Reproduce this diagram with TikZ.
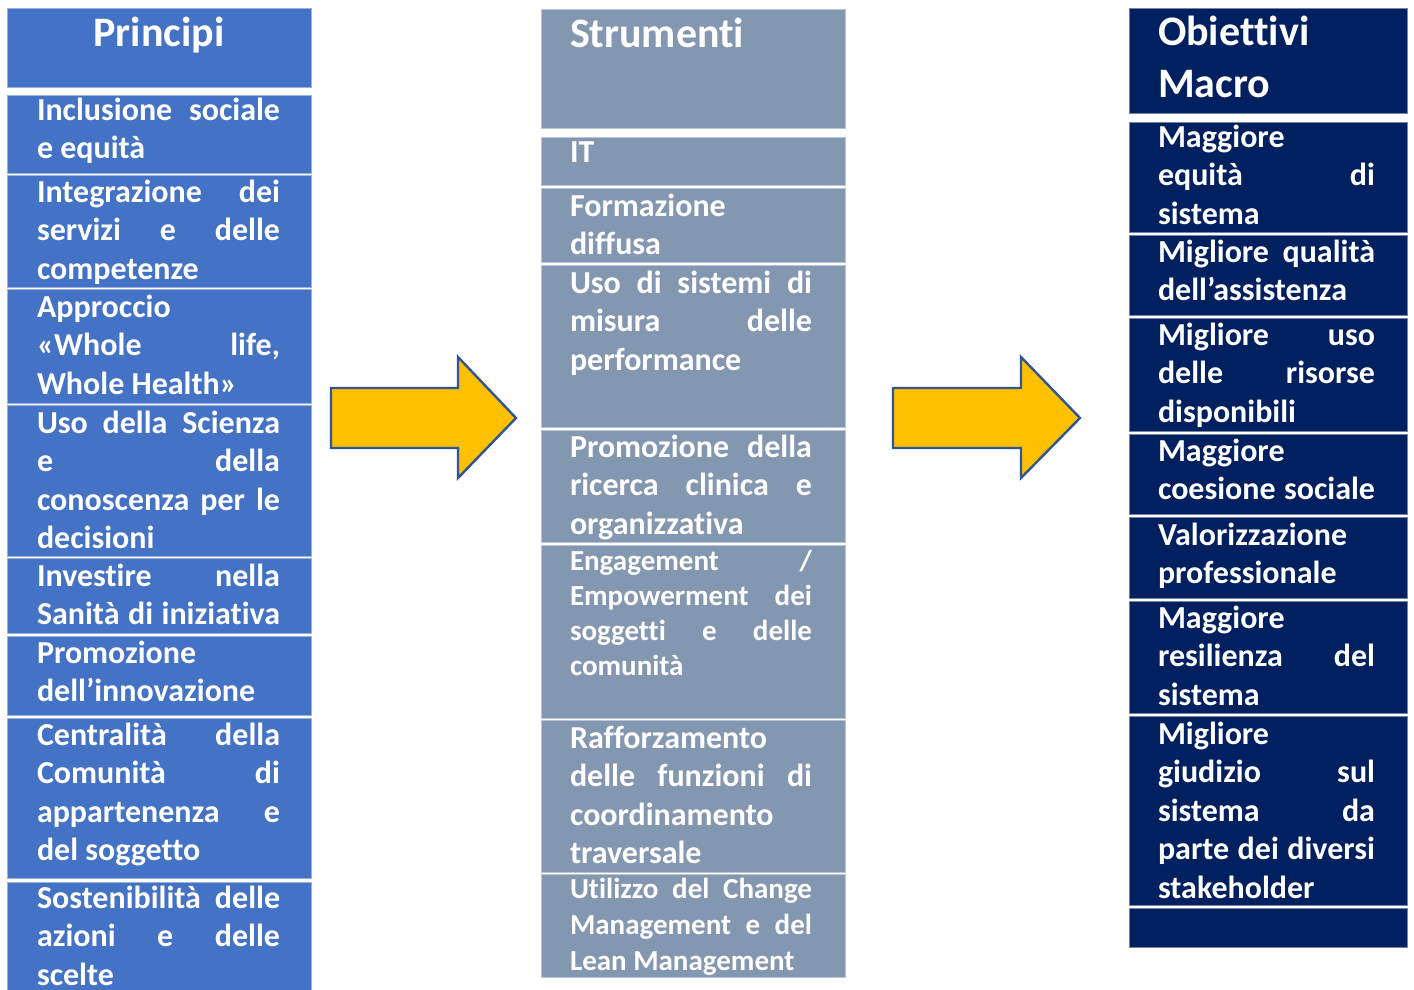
\documentclass[tikz,border=0pt]{standalone}
\usepackage{fontspec}
\setmainfont[Ligatures=NoCommon]{Carlito}
\definecolor{colL}{HTML}{4472C4}
\definecolor{colM}{HTML}{8497B0}
\definecolor{colR}{HTML}{002060}
\definecolor{arrY}{HTML}{FFC000}
\definecolor{arrB}{HTML}{2F5597}
\newcommand\J[1]{\makebox[\linewidth][s]{\spaceskip=0.226em plus 1fil\relax #1}}
\begin{document}
\begin{tikzpicture}[x=1pt,y=-1pt,
  boxL/.style={fill=colL, draw=colL!55!white, line width=0.8pt},
  boxM/.style={fill=colM, draw=colM!55!white, line width=0.8pt},
  boxR/.style={fill=colR, draw=colR!55!white, line width=0.8pt},
  txt/.style={anchor=base west, inner sep=0pt, outer sep=0pt, text=white, align=left,
    font=\fontsize{32}{38.5}\selectfont\bfseries,
    execute at begin node={\spaceskip=0pt\xspaceskip=0pt\hyphenpenalty=10000\exhyphenpenalty=10000\relax}},
  txtL/.style={txt, text width=243pt},
  txtM/.style={txt, text width=242pt},
  txtMs/.style={txt, text width=242pt, font=\fontsize{29}{#1}\selectfont\bfseries},
  txtR/.style={txt, text width=217pt},
  headtxt/.style={inner sep=0pt, outer sep=0pt, text=white, align=left,
    font=\fontsize{42}{52}\selectfont\bfseries},
  bigarrow/.style={fill=arrY, draw=arrB, line width=2.4pt, line join=miter}]
\useasboundingbox (0,0) rectangle (1414,990);
\fill[white] (0,0) rectangle (1414,990);

% ---------- left column: Principi ----------
\draw[boxL] (7,8) rectangle (311,87);
\draw[boxL] (7,95) rectangle (311,173);
\draw[boxL] (7,175) rectangle (311,287);
\draw[boxL] (7,289) rectangle (311,403);
\draw[boxL] (7,405) rectangle (311,556);
\draw[boxL] (7,558) rectangle (311,633);
\draw[boxL] (7,636) rectangle (311,715);
\draw[boxL] (7,718) rectangle (311,878);
\draw[boxL] (7,882) rectangle (311,992);

\node[headtxt, anchor=base] (lh) at (159,47) {Principi};
\node[txtL] (l1) at (37,120) {\J{Inclusione sociale}\\e equità};
\node[txtL] (l2) at (37,202) {\J{Integrazione dei}\\\J{servizi e delle}\\competenze};
\node[txtL] (l3) at (37,317) {Approccio\\\J{«Whole life,}\\Whole Health»};
\node[txtL] (l4) at (37,433) {\J{Uso della Scienza}\\\J{e della}\\\J{conoscenza per le}\\decisioni};
\node[txtL] (l5) at (37,586) {\J{Investire nella}\\\J{Sanità di iniziativa}};
\node[txtL] (l6) at (37,663) {Promozione\\dell’innovazione};
\node[txtL] (l7) at (37,745) {\J{Centralità della}\\\J{Comunità di}\\\J{appartenenza e}\\del soggetto};
\node[txtL] (l8) at (37,908) {\J{Sostenibilità delle}\\\J{azioni e delle}\\scelte};

% ---------- middle column: Strumenti ----------
\draw[boxM] (541,9) rectangle (845,128);
\draw[boxM] (541,137) rectangle (845,185);
\draw[boxM] (541,188) rectangle (845,262);
\draw[boxM] (541,265) rectangle (845,427);
\draw[boxM] (541,430) rectangle (845,542);
\draw[boxM] (541,545) rectangle (845,718);
\draw[boxM] (541,720) rectangle (845,872);
\draw[boxM] (541,874) rectangle (845,977);

\node[headtxt, anchor=base west] (mh) at (570,48) {Strumenti};
\node[txtM] (m1) at (570,162) {IT};
\node[txtM] (m2) at (570,216) {Formazione\\diffusa};
\node[txtM] (m3) at (570,293) {\J{Uso di sistemi di}\\\J{misura delle}\\performance};
\node[txtM] (m4) at (570,457) {\J{Promozione della}\\\J{ricerca clinica e}\\organizzativa};
\node[txtMs=35.3] (m5) at (570,570) {\J{Engagement /}\\\J{Empowerment dei}\\\J{soggetti e delle}\\comunità};
\node[txtM] (m6) at (570,748) {Rafforzamento\\\J{delle funzioni di}\\coordinamento\\traversale};
\node[txtMs=36] (m7) at (570,898) {\J{Utilizzo del Change}\\\J{Management e del}\\Lean Management};

% ---------- right column: Obiettivi Macro ----------
\draw[boxR] (1129,8) rectangle (1407,113);
\draw[boxR] (1129,122) rectangle (1407,232);
\draw[boxR] (1129,235) rectangle (1407,315);
\draw[boxR] (1129,318) rectangle (1407,431);
\draw[boxR] (1129,434) rectangle (1407,514);
\draw[boxR] (1129,517) rectangle (1407,598);
\draw[boxR] (1129,601) rectangle (1407,713);
\draw[boxR] (1129,716) rectangle (1407,905);
\draw[boxR] (1129,908) rectangle (1407,947);

\node[headtxt, anchor=base west, text width=240pt] (rh) at (1158,46) {Obiettivi\\Macro};
\node[txtR] (r1) at (1158,147) {Maggiore\\\J{equità di}\\sistema};
\node[txtR] (r2) at (1158,262) {\J{Migliore qualità}\\dell’assistenza};
\node[txtR] (r3) at (1158,345) {\J{Migliore uso}\\\J{delle risorse}\\disponibili};
\node[txtR] (r4) at (1158,461) {Maggiore\\\J{coesione sociale}};
\node[txtR] (r5) at (1158,545) {Valorizzazione\\professionale};
\node[txtR] (r6) at (1158,628) {Maggiore\\\J{resilienza del}\\sistema};
\node[txtR] (r7) at (1158,744) {Migliore\\\J{giudizio sul}\\\J{sistema da}\\\J{parte dei diversi}\\stakeholder};

% ---------- block arrows ----------
\draw[bigarrow] (331,388) -- (458,388) -- (458,357) -- (516,418) -- (458,478) -- (458,448) -- (331,448) -- cycle;
\draw[bigarrow] (893,388) -- (1021,388) -- (1021,357) -- (1080,418) -- (1021,478) -- (1021,448) -- (893,448) -- cycle;
\end{tikzpicture}
\end{document}
